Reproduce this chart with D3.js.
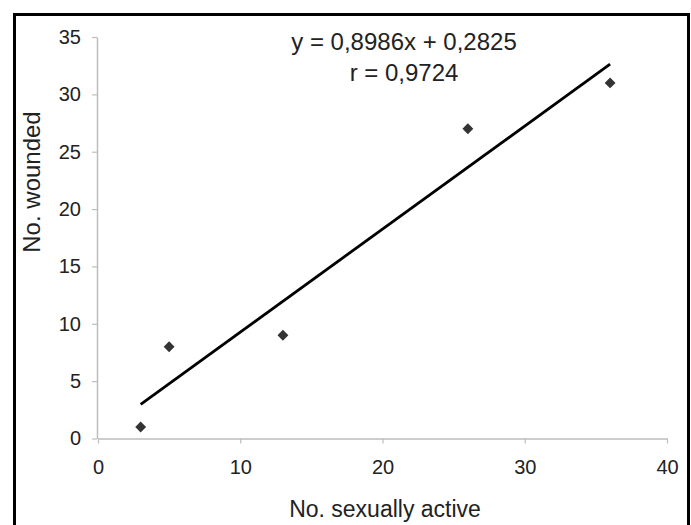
<!DOCTYPE html>
<html>
<head>
<meta charset="utf-8">
<script src="https://cdn.jsdelivr.net/npm/d3@7"></script>
<style>
  html, body { margin: 0; padding: 0; background: #fff; }
  svg { display: block; font-family: "Liberation Sans", Arial, sans-serif; }
</style>
</head>
<body>
<div id="chart"></div>
<script>
// data
const sexuallyActive = [3, 5, 13, 26, 36];
const wounded = [1, 8, 9, 27, 31];
const xTicks = [0, 10, 20, 30, 40];
const yTicks = [0, 5, 10, 15, 20, 25, 30, 35];
const slope = 0.8986;
const intercept = 0.2825;
const eqLabel = "y = 0,8986x + 0,2825";
const rLabel = "r = 0,9724";

const w = 691, h = 525;
const svg = d3.select("#chart").append("svg").attr("width", w).attr("height", h);

// frame
svg.append("rect")
  .attr("x", 14.5).attr("y", 14.5)
  .attr("width", 674).attr("height", 515)
  .attr("fill", "none").attr("stroke", "#000").attr("stroke-width", 3);

const x = d3.scaleLinear().domain([0, 40]).range([98, 667]);
const y = d3.scaleLinear().domain([0, 35]).range([438.5, 37]);

const axisColor = "#bdbdbd";

const xAxis = svg.append("g")
  .attr("transform", `translate(0, ${y(0)})`)
  .call(d3.axisBottom(x).tickValues(xTicks).tickSize(5).tickPadding(16).tickSizeOuter(0));
xAxis.select(".domain").attr("stroke", axisColor).attr("stroke-width", 1.5);
xAxis.selectAll(".tick line").attr("stroke", axisColor).attr("stroke-width", 1.2);
xAxis.selectAll(".tick text").attr("fill", "#222").attr("font-size", 20)
  .attr("font-family", "Liberation Sans, Arial, sans-serif");

const yAxis = svg.append("g")
  .attr("transform", `translate(${x(0) - 1}, 0)`)
  .call(d3.axisLeft(y).tickValues(yTicks).tickSize(5).tickPadding(11).tickSizeOuter(0));
yAxis.select(".domain").attr("stroke", axisColor).attr("stroke-width", 1.5);
yAxis.selectAll(".tick line").attr("stroke", axisColor).attr("stroke-width", 1.2);
yAxis.selectAll(".tick text").attr("fill", "#222").attr("font-size", 20)
  .attr("font-family", "Liberation Sans, Arial, sans-serif");

// trend line
const x0 = d3.min(sexuallyActive), x1 = d3.max(sexuallyActive);
svg.append("line")
  .attr("x1", x(x0)).attr("y1", y(slope * x0 + intercept))
  .attr("x2", x(x1)).attr("y2", y(slope * x1 + intercept))
  .attr("stroke", "#000").attr("stroke-width", 2.8);

// points
const pts = sexuallyActive.map((d, i) => ({ x: d, y: wounded[i] }));
svg.append("g").selectAll("path").data(pts).enter().append("path")
  .attr("d", d3.symbol().type(d3.symbolDiamond2).size(75))
  .attr("transform", (d) => `translate(${x(d.x)}, ${y(d.y)})`)
  .attr("fill", "#333");

// equation
svg.append("text").text(eqLabel)
  .attr("x", 404).attr("y", 50).attr("text-anchor", "middle")
  .attr("font-size", 24).attr("fill", "#222");
svg.append("text").text(rLabel)
  .attr("x", 404).attr("y", 81).attr("text-anchor", "middle")
  .attr("font-size", 24).attr("fill", "#222");

// axis titles
svg.append("text").text("No. sexually active")
  .attr("x", 385).attr("y", 517).attr("text-anchor", "middle")
  .attr("font-size", 23).attr("fill", "#222");
svg.append("text").text("No. wounded")
  .attr("transform", "translate(40, 182) rotate(-90)")
  .attr("text-anchor", "middle")
  .attr("font-size", 24).attr("fill", "#222");
</script>
</body>
</html>
